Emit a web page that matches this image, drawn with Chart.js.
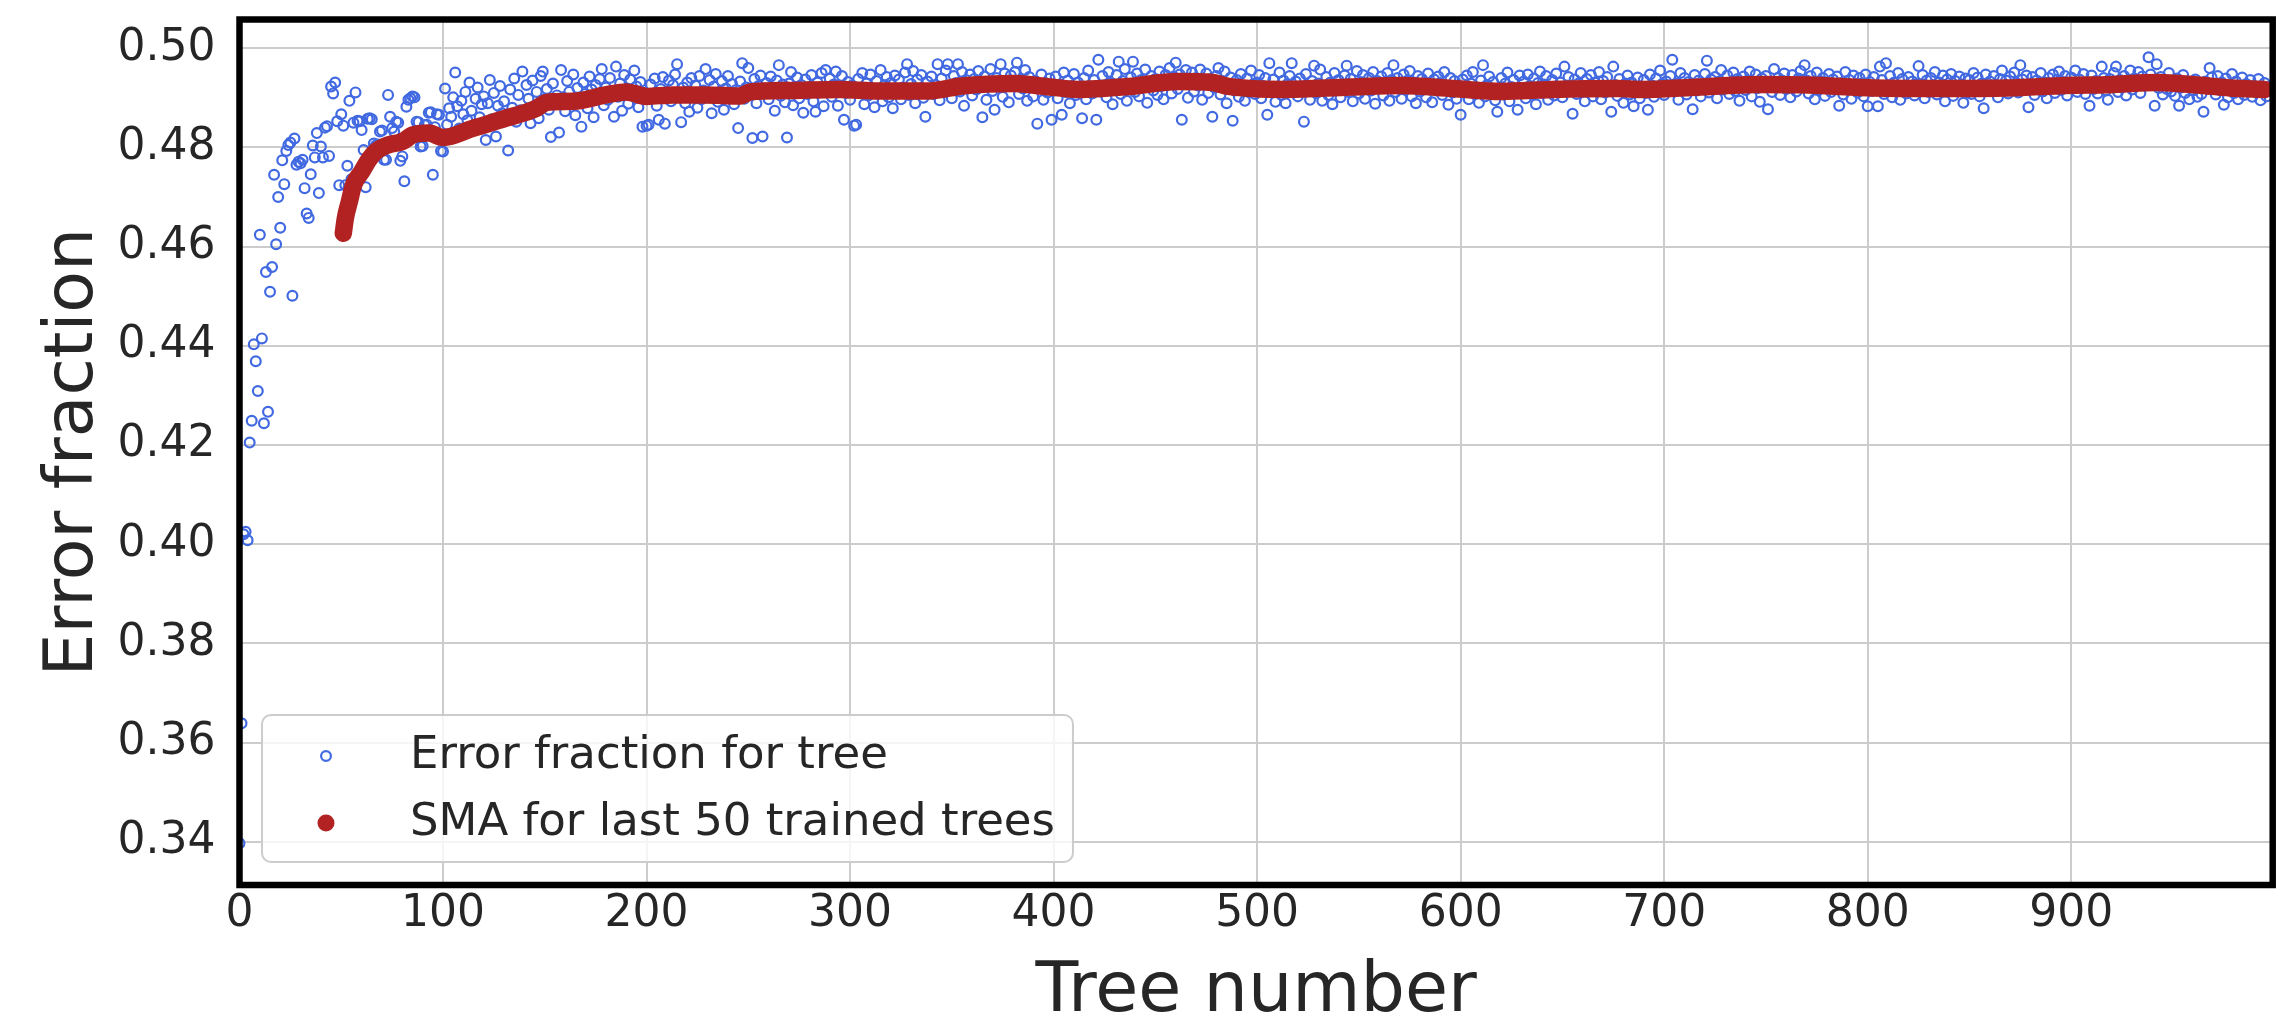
<!DOCTYPE html>
<html>
<head>
<meta charset="utf-8">
<script src="https://cdn.jsdelivr.net/npm/chart.js@4.4.1/dist/chart.umd.min.js"></script>
<style>
html, body { margin: 0; padding: 0; background: #ffffff; }
canvas { display: block; }
</style>
</head>
<body>
<canvas id="chart" width="2289" height="1016"></canvas>
<script>
// ---- Data ----
// Error fraction of each tree (tree number = array index, 0..999)
const errorFraction = [
0.3397,0.3639,0.4020,0.4025,0.4008,0.4205,0.4249,0.4403,0.4369,0.4309,
0.4624,0.4415,0.4244,0.4549,0.4267,0.4509,0.4559,0.4745,0.4605,0.4700,
0.4638,0.4774,0.4726,0.4793,0.4805,0.4810,0.4501,0.4818,0.4765,0.4771,
0.4768,0.4775,0.4718,0.4667,0.4658,0.4746,0.4804,0.4780,0.4829,0.4708,
0.4802,0.4780,0.4840,0.4843,0.4783,0.4923,0.4909,0.4931,0.4853,0.4724,
0.4867,0.4844,0.4724,0.4763,0.4894,0.4736,0.4850,0.4911,0.4854,0.4853,
0.4835,0.4795,0.4720,0.4858,0.4859,0.4857,0.4808,0.4804,0.4806,0.4832,
0.4834,0.4775,0.4775,0.4906,0.4862,0.4839,0.4832,0.4852,0.4850,0.4773,
0.4782,0.4732,0.4882,0.4896,0.4899,0.4903,0.4901,0.4852,0.4851,0.4802,
0.4803,0.4845,0.4846,0.4870,0.4871,0.4745,0.4841,0.4867,0.4866,0.4793,
0.4792,0.4919,0.4846,0.4879,0.4862,0.4901,0.4951,0.4883,0.4838,0.4894,
0.4867,0.4912,0.4855,0.4931,0.4874,0.4842,0.4898,0.4921,0.4861,0.4887,
0.4903,0.4815,0.4889,0.4936,0.4857,0.4910,0.4822,0.4884,0.4924,0.4869,
0.4893,0.4861,0.4794,0.4917,0.4880,0.4939,0.4852,0.4906,0.4875,0.4953,
0.4871,0.4926,0.4898,0.4849,0.4935,0.4883,0.4912,0.4859,0.4944,0.4953,
0.4897,0.4918,0.4876,0.4821,0.4929,0.4888,0.4905,0.4830,0.4956,0.4901,
0.4873,0.4934,0.4912,0.4889,0.4947,0.4865,0.4920,0.4896,0.4842,0.4931,
0.4908,0.4879,0.4943,0.4917,0.4861,0.4926,0.4899,0.4938,0.4958,0.4885,
0.4921,0.4896,0.4940,0.4911,0.4862,0.4963,0.4902,0.4929,0.4874,0.4946,
0.4915,0.4888,0.4937,0.4906,0.4955,0.4923,0.4881,0.4932,0.4842,0.4910,
0.4844,0.4846,0.4927,0.4901,0.4939,0.4884,0.4856,0.4918,0.4942,0.4848,
0.4912,0.4935,0.4893,0.4926,0.4947,0.4968,0.4904,0.4851,0.4921,0.4889,
0.4931,0.4872,0.4940,0.4909,0.4925,0.4880,0.4944,0.4897,0.4915,0.4958,
0.4901,0.4936,0.4869,0.4923,0.4948,0.4892,0.4912,0.4934,0.4876,0.4919,
0.4944,0.4903,0.4928,0.4887,0.4916,0.4839,0.4933,0.4970,0.4898,0.4921,
0.4960,0.4907,0.4819,0.4938,0.4889,0.4924,0.4945,0.4822,0.4911,0.4930,
0.4897,0.4943,0.4918,0.4874,0.4935,0.4966,0.4904,0.4927,0.4891,0.4820,
0.4929,0.4952,0.4885,0.4913,0.4941,0.4899,0.4926,0.4870,0.4937,0.4908,
0.4922,0.4946,0.4893,0.4872,0.4931,0.4911,0.4950,0.4883,0.4956,0.4917,
0.4939,0.4902,0.4927,0.4953,0.4884,0.4919,0.4944,0.4856,0.4910,0.4932,
0.4896,0.4925,0.4844,0.4846,0.4938,0.4913,0.4950,0.4887,0.4929,0.4905,
0.4947,0.4918,0.4881,0.4934,0.4910,0.4956,0.4893,0.4926,0.4942,0.4901,
0.4930,0.4879,0.4945,0.4912,0.4937,0.4897,0.4921,0.4951,0.4968,0.4906,
0.4928,0.4954,0.4889,0.4937,0.4915,0.4946,0.4900,0.4862,0.4933,0.4918,
0.4943,0.4908,0.4926,0.4968,0.4895,0.4939,0.4912,0.4955,0.4968,0.4921,
0.4899,0.4944,0.4930,0.4968,0.4913,0.4952,0.4884,0.4936,0.4922,0.4947,
0.4905,0.4938,0.4917,0.4954,0.4929,0.4861,0.4943,0.4896,0.4932,0.4958,
0.4914,0.4876,0.4940,0.4923,0.4968,0.4902,0.4949,0.4931,0.4891,0.4945,
0.4926,0.4952,0.4971,0.4908,0.4937,0.4919,0.4956,0.4894,0.4942,0.4928,
0.4903,0.4934,0.4848,0.4921,0.4947,0.4896,0.4930,0.4911,0.4939,0.4856,
0.4918,0.4943,0.4899,0.4927,0.4866,0.4951,0.4912,0.4935,0.4889,0.4924,
0.4948,0.4906,0.4931,0.4917,0.4859,0.4940,0.4897,0.4955,0.4922,0.4909,
0.4936,0.4856,0.4977,0.4913,0.4944,0.4925,0.4901,0.4952,0.4930,0.4887,
0.4919,0.4946,0.4973,0.4908,0.4934,0.4958,0.4894,0.4927,0.4941,0.4973,
0.4912,0.4949,0.4903,0.4936,0.4921,0.4957,0.4890,0.4932,0.4944,0.4915,
0.4938,0.4906,0.4953,0.4924,0.4897,0.4946,0.4931,0.4960,0.4909,0.4942,
0.4971,0.4918,0.4947,0.4856,0.4935,0.4956,0.4900,0.4929,0.4951,0.4913,
0.4940,0.4925,0.4957,0.4896,0.4933,0.4949,0.4910,0.4938,0.4862,0.4921,
0.4944,0.4960,0.4907,0.4930,0.4953,0.4889,0.4926,0.4941,0.4854,0.4915,
0.4936,0.4902,0.4948,0.4921,0.4894,0.4939,0.4912,0.4955,0.4927,0.4908,
0.4931,0.4946,0.4899,0.4924,0.4940,0.4866,0.4970,0.4913,0.4937,0.4892,
0.4922,0.4951,0.4906,0.4935,0.4889,0.4928,0.4944,0.4970,0.4911,0.4933,
0.4903,0.4939,0.4917,0.4852,0.4948,0.4925,0.4896,0.4934,0.4965,0.4910,
0.4929,0.4957,0.4894,0.4920,0.4942,0.4906,0.4931,0.4887,0.4950,0.4918,
0.4936,0.4901,0.4927,0.4945,0.4965,0.4912,0.4938,0.4893,0.4923,0.4954,
0.4909,0.4932,0.4946,0.4898,0.4926,0.4940,0.4915,0.4952,0.4888,0.4934,
0.4921,0.4943,0.4905,0.4929,0.4950,0.4894,0.4936,0.4966,0.4912,0.4940,
0.4928,0.4898,0.4947,0.4917,0.4935,0.4954,0.4903,0.4931,0.4889,0.4944,
0.4913,0.4938,0.4926,0.4901,0.4949,0.4922,0.4891,0.4937,0.4915,0.4943,
0.4930,0.4906,0.4952,0.4919,0.4886,0.4940,0.4911,0.4934,0.4898,0.4925,
0.4866,0.4937,0.4914,0.4945,0.4897,0.4929,0.4952,0.4908,0.4921,0.4890,
0.4935,0.4966,0.4903,0.4926,0.4943,0.4911,0.4932,0.4895,0.4872,0.4919,
0.4940,0.4907,0.4929,0.4951,0.4893,0.4922,0.4936,0.4913,0.4876,0.4945,
0.4916,0.4933,0.4899,0.4947,0.4924,0.4908,0.4939,0.4887,0.4930,0.4953,
0.4910,0.4927,0.4944,0.4896,0.4921,0.4936,0.4905,0.4949,0.4918,0.4931,
0.4901,0.4963,0.4925,0.4942,0.4914,0.4868,0.4937,0.4908,0.4929,0.4950,
0.4920,0.4893,0.4938,0.4915,0.4946,0.4903,0.4931,0.4924,0.4952,0.4897,
0.4934,0.4911,0.4942,0.4919,0.4872,0.4963,0.4926,0.4904,0.4938,0.4915,
0.4890,0.4929,0.4945,0.4907,0.4931,0.4883,0.4922,0.4941,0.4899,0.4917,
0.4936,0.4910,0.4876,0.4947,0.4925,0.4902,0.4939,0.4918,0.4955,0.4928,
0.4906,0.4933,0.4919,0.4944,0.4977,0.4913,0.4929,0.4896,0.4950,0.4923,
0.4940,0.4907,0.4932,0.4921,0.4877,0.4946,0.4915,0.4935,0.4903,0.4928,
0.4948,0.4975,0.4911,0.4937,0.4925,0.4942,0.4899,0.4933,0.4956,0.4917,
0.4930,0.4945,0.4908,0.4922,0.4951,0.4914,0.4938,0.4894,0.4927,0.4943,
0.4916,0.4935,0.4953,0.4903,0.4929,0.4947,0.4920,0.4892,0.4939,0.4926,
0.4944,0.4877,0.4930,0.4912,0.4958,0.4923,0.4940,0.4906,0.4935,0.4949,
0.4918,0.4932,0.4901,0.4946,0.4927,0.4913,0.4939,0.4954,0.4922,0.4966,
0.4935,0.4909,0.4944,0.4928,0.4897,0.4951,0.4917,0.4933,0.4940,0.4904,
0.4926,0.4948,0.4912,0.4937,0.4920,0.4943,0.4884,0.4930,0.4907,0.4952,
0.4919,0.4936,0.4898,0.4945,0.4924,0.4911,0.4940,0.4929,0.4903,0.4947,
0.4883,0.4932,0.4914,0.4942,0.4921,0.4883,0.4963,0.4936,0.4908,0.4970,
0.4925,0.4944,0.4901,0.4931,0.4917,0.4950,0.4896,0.4938,0.4923,0.4909,
0.4942,0.4915,0.4933,0.4905,0.4928,0.4964,0.4920,0.4946,0.4899,0.4935,
0.4912,0.4940,0.4926,0.4952,0.4907,0.4931,0.4918,0.4945,0.4893,0.4937,
0.4921,0.4948,0.4904,0.4934,0.4916,0.4943,0.4927,0.4890,0.4939,0.4911,
0.4936,0.4908,0.4950,0.4922,0.4941,0.4903,0.4929,0.4879,0.4947,0.4917,
0.4933,0.4914,0.4944,0.4926,0.4901,0.4938,0.4955,0.4919,0.4935,0.4909,
0.4943,0.4923,0.4951,0.4930,0.4911,0.4966,0.4937,0.4918,0.4945,0.4881,
0.4927,0.4942,0.4906,0.4935,0.4919,0.4950,0.4913,0.4931,0.4899,0.4940,
0.4924,0.4947,0.4910,0.4936,0.4953,0.4916,0.4932,0.4944,0.4905,0.4929,
0.4941,0.4920,0.4955,0.4912,0.4937,0.4926,0.4948,0.4908,0.4931,0.4884,
0.4945,0.4918,0.4934,0.4909,0.4927,0.4963,0.4940,0.4915,0.4896,0.4938,
0.4926,0.4950,0.4963,0.4912,0.4936,0.4921,0.4944,0.4905,0.4932,0.4955,
0.4917,0.4939,0.4928,0.4952,0.4910,0.4943,0.4925,0.4936,0.4982,0.4947,
0.4931,0.4884,0.4968,0.4920,0.4942,0.4907,0.4935,0.4918,0.4950,0.4913,
0.4928,0.4904,0.4939,0.4884,0.4921,0.4946,0.4910,0.4932,0.4897,0.4926,
0.4915,0.4937,0.4902,0.4929,0.4908,0.4872,0.4933,0.4919,0.4960,0.4941,
0.4922,0.4907,0.4944,0.4916,0.4931,0.4886,0.4939,0.4901,0.4925,0.4948,
0.4910,0.4933,0.4897,0.4920,0.4941,0.4906,0.4928,0.4915,0.4936,0.4902,
0.4924,0.4911,0.4938,0.4895,0.4917,0.4930,0.4903,0.4921,0.4913,0.4926
];
const treeNumbers = errorFraction.map((_, i) => i);

// Simple moving average (last 50 trees), read along the red band
const smaTrees = [51, 52, 54, 56, 60, 64, 67, 73, 80, 85, 93, 100, 115, 131, 146, 151, 164, 180, 190, 200,
  213, 229, 246, 251, 270, 295, 314, 339, 355, 381, 396, 412, 437, 461, 478, 486, 514, 546, 571, 596,
  620, 645, 677, 689, 713, 746, 771, 803, 836, 869, 897, 921, 942, 962, 978, 995];
const smaValues = [0.4627, 0.4657, 0.4691, 0.4724, 0.4751, 0.4778, 0.4792, 0.4805, 0.4812, 0.4825, 0.4829, 0.4820, 0.4839, 0.4859, 0.4879, 0.4891, 0.4893, 0.4906, 0.4912, 0.4903,
  0.4906, 0.4906, 0.4904, 0.4912, 0.4915, 0.4917, 0.4914, 0.4914, 0.4924, 0.4929, 0.4923, 0.4917, 0.4923, 0.4933, 0.4931, 0.4923, 0.4917, 0.4922, 0.4925, 0.4919,
  0.4913, 0.4917, 0.4919, 0.4917, 0.4921, 0.4927, 0.4926, 0.4920, 0.4919, 0.4920, 0.4925, 0.4927, 0.4931, 0.4926, 0.4920, 0.4917];

const xTickValues = [0, 100, 200, 300, 400, 500, 600, 700, 800, 900];
const yTickValues = [0.34, 0.36, 0.38, 0.40, 0.42, 0.44, 0.46, 0.48, 0.50];
const seriesLabels = ['Error fraction for tree', 'SMA for last 50 trained trees'];
const xAxisTitle = 'Tree number';
const yAxisTitle = 'Error fraction';

// ---- Chart ----
const FONT = "'DejaVu Sans', 'Liberation Sans', sans-serif";
const TEXT = '#262626';
Chart.defaults.font.family = FONT;
Chart.defaults.color = TEXT;

const framePlugin = {
  id: 'frameAndLegend',
  afterDraw(chart) {
    const ctx = chart.ctx;
    const a = chart.chartArea;
    ctx.save();
    // black frame around the plot
    ctx.strokeStyle = '#000000';
    ctx.lineWidth = 6.5;
    ctx.strokeRect(a.left, a.top, a.right - a.left, a.bottom - a.top);

    // legend (bottom-left inside the plot)
    const fs = 45;
    ctx.font = fs + 'px ' + FONT;
    const labels = chart.data.datasets.map(d => d.label);
    const textW = Math.max(...labels.map(t => ctx.measureText(t).width));
    const bw = 148 + textW + 18;
    const bh = 147;
    const bx = a.left + 22.5;
    const by = a.bottom - 23 - bh;
    const r = 9;
    ctx.beginPath();
    ctx.moveTo(bx + r, by);
    ctx.lineTo(bx + bw - r, by);
    ctx.arcTo(bx + bw, by, bx + bw, by + r, r);
    ctx.lineTo(bx + bw, by + bh - r);
    ctx.arcTo(bx + bw, by + bh, bx + bw - r, by + bh, r);
    ctx.lineTo(bx + r, by + bh);
    ctx.arcTo(bx, by + bh, bx, by + bh - r, r);
    ctx.lineTo(bx, by + r);
    ctx.arcTo(bx, by, bx + r, by, r);
    ctx.closePath();
    ctx.fillStyle = 'rgba(255,255,255,0.8)';
    ctx.fill();
    ctx.strokeStyle = '#cccccc';
    ctx.lineWidth = 2;
    ctx.stroke();

    const rowY = [by + 41, by + 108];
    const mx = bx + 64;
    const tx = bx + 148;
    // marker 1: hollow blue circle
    ctx.beginPath();
    ctx.arc(mx, rowY[0], 4.9, 0, Math.PI * 2);
    ctx.strokeStyle = '#4169E1';
    ctx.lineWidth = 2.2;
    ctx.stroke();
    // marker 2: filled red circle
    ctx.beginPath();
    ctx.arc(mx, rowY[1], 8.5, 0, Math.PI * 2);
    ctx.fillStyle = '#B22222';
    ctx.fill();

    ctx.fillStyle = TEXT;
    ctx.textAlign = 'left';
    ctx.textBaseline = 'middle';
    ctx.fillText(labels[0], tx, rowY[0]);
    ctx.fillText(labels[1], tx, rowY[1]);
    ctx.restore();
  }
};

new Chart(document.getElementById('chart'), {
  type: 'scatter',
  data: {
    datasets: [
      {
        label: seriesLabels[0],
        data: treeNumbers.map((t, i) => ({ x: t, y: errorFraction[i] })),
        pointRadius: 4.9,
        pointBorderWidth: 2.2,
        pointBorderColor: '#4169E1',
        pointBackgroundColor: 'rgba(0,0,0,0)',
        borderColor: '#4169E1',
        backgroundColor: 'rgba(0,0,0,0)',
        showLine: false,
        clip: 0,
        order: 2
      },
      {
        label: seriesLabels[1],
        data: smaTrees.map((t, i) => ({ x: t, y: smaValues[i] })),
        showLine: true,
        pointRadius: 0,
        borderColor: '#B22222',
        backgroundColor: '#B22222',
        borderWidth: 17.5,
        borderCapStyle: 'round',
        borderJoinStyle: 'round',
        cubicInterpolationMode: 'monotone',
        fill: false,
        clip: 0,
        order: 1
      }
    ]
  },
  options: {
    responsive: false,
    animation: false,
    events: [],
    devicePixelRatio: 1,
    layout: { padding: { top: 19.5, right: 16.3, bottom: 0, left: 0 } },
    plugins: {
      legend: { display: false },
      tooltip: { enabled: false }
    },
    scales: {
      x: {
        type: 'linear',
        min: 0,
        max: 999,
        afterFit(scale) {
          scale.height = 131;
          scale.paddingLeft = 0; scale.paddingRight = 0;
          scale.paddingTop = 0; scale.paddingBottom = 0;
        },
        afterBuildTicks(scale) { scale.ticks = xTickValues.map(v => ({ value: v })); },
        grid: { color: '#cccccc', lineWidth: 2, drawTicks: false },
        border: { display: false },
        ticks: {
          autoSkip: false,
          maxRotation: 0,
          padding: 3,
          color: TEXT,
          font: { size: 44 },
          callback: v => String(v)
        },
        title: {
          display: true,
          text: xAxisTitle,
          color: TEXT,
          font: { size: 70, lineHeight: 0.66 },
          padding: 0
        }
      },
      y: {
        type: 'linear',
        min: 0.3313,
        max: 0.5058,
        afterFit(scale) {
          scale.width = 239.5;
          scale.paddingLeft = 0; scale.paddingRight = 0;
          scale.paddingTop = 0; scale.paddingBottom = 0;
        },
        afterBuildTicks(scale) { scale.ticks = yTickValues.map(v => ({ value: v })); },
        grid: { color: '#cccccc', lineWidth: 2, drawTicks: false },
        border: { display: false },
        ticks: {
          padding: 24,
          color: TEXT,
          font: { size: 44 },
          callback: v => v.toFixed(2)
        },
        title: {
          display: true,
          text: yAxisTitle,
          color: TEXT,
          font: { size: 68, lineHeight: 1.2 },
          padding: { top: 34, bottom: 0 }
        }
      }
    }
  },
  plugins: [framePlugin]
});
</script>
</body>
</html>
